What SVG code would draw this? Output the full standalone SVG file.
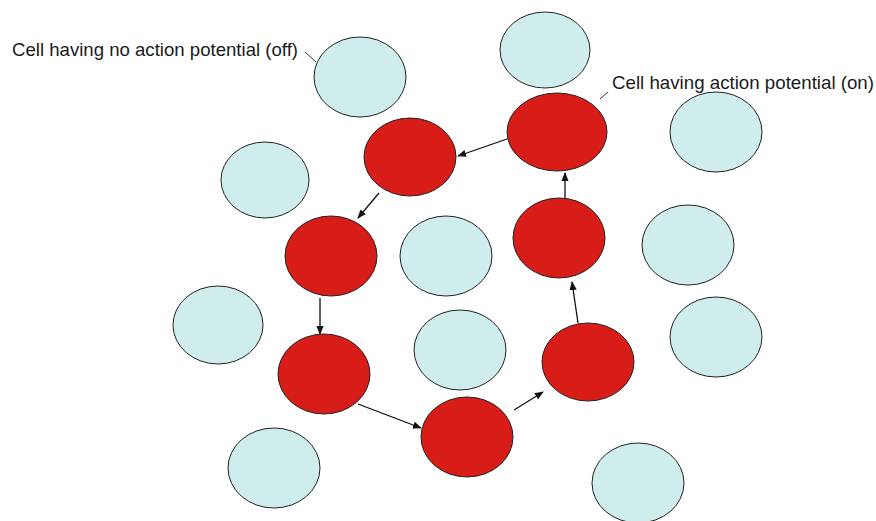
<svg xmlns="http://www.w3.org/2000/svg" width="876" height="521" viewBox="0 0 876 521">
<style>
.off{fill:#cfeded;stroke:#222;stroke-width:1}
.on{fill:#d81d19;stroke:#222;stroke-width:1}
.lbl{font-family:"Liberation Sans",Arial,sans-serif;font-size:18.5px;fill:#1a1a1a}
.ar{stroke:#111;stroke-width:1.3;fill:none;marker-end:url(#ah)}
.ld{stroke:#333;stroke-width:1;fill:none}
</style>
<defs>
<marker id="ah" viewBox="0 0 10 10" refX="9" refY="5" markerWidth="9" markerHeight="9" markerUnits="userSpaceOnUse" orient="auto">
<path d="M0,1 L10,5 L0,9 z" fill="#111"/>
</marker>
</defs>
<rect width="876" height="521" fill="#fff"/>
<g id="off1"><ellipse class="off" cx="360" cy="77" rx="46" ry="40"/></g>
<g id="off2"><ellipse class="off" cx="545" cy="50" rx="45" ry="38"/></g>
<g id="off3"><ellipse class="off" cx="716" cy="132" rx="46" ry="40"/></g>
<g id="off4"><ellipse class="off" cx="265" cy="180" rx="44" ry="38"/></g>
<g id="off5"><ellipse class="off" cx="446" cy="256" rx="46" ry="40"/></g>
<g id="off6"><ellipse class="off" cx="688" cy="245" rx="46" ry="40"/></g>
<g id="off7"><ellipse class="off" cx="218" cy="325" rx="45" ry="39"/></g>
<g id="off8"><ellipse class="off" cx="460" cy="350" rx="46" ry="40"/></g>
<g id="off9"><ellipse class="off" cx="716" cy="337" rx="46" ry="40"/></g>
<g id="off10"><ellipse class="off" cx="274" cy="468" rx="46" ry="40"/></g>
<g id="off11"><ellipse class="off" cx="638" cy="483" rx="46" ry="40"/></g>
<g id="on1"><ellipse class="on" cx="557" cy="132" rx="50" ry="39"/></g>
<g id="on2"><ellipse class="on" cx="410" cy="157" rx="46" ry="39"/></g>
<g id="on3"><ellipse class="on" cx="331" cy="256" rx="46" ry="40"/></g>
<g id="on4"><ellipse class="on" cx="324" cy="374" rx="46" ry="40"/></g>
<g id="on5"><ellipse class="on" cx="467" cy="437" rx="46" ry="40"/></g>
<g id="on6"><ellipse class="on" cx="588" cy="362" rx="46" ry="39"/></g>
<g id="on7"><ellipse class="on" cx="559" cy="238" rx="46" ry="40"/></g>
<g id="connectors">
<line class="ar" x1="507" y1="139" x2="458" y2="156"/>
<line class="ar" x1="379" y1="193" x2="358" y2="218"/>
<line class="ar" x1="320" y1="298" x2="320" y2="334"/>
<line class="ar" x1="358" y1="404" x2="421" y2="428"/>
<line class="ar" x1="514" y1="410" x2="543" y2="392"/>
<line class="ar" x1="578" y1="323" x2="572" y2="282"/>
<line class="ar" x1="565" y1="199" x2="565" y2="173"/>
<line class="ld" x1="305" y1="52" x2="316" y2="62"/>
<line class="ld" x1="600" y1="99" x2="608" y2="92"/>
</g>
<g id="labels">
<text class="lbl" x="12" y="56" textLength="286" lengthAdjust="spacingAndGlyphs">Cell having no action potential (off)</text>
<text class="lbl" x="612" y="89" textLength="262" lengthAdjust="spacingAndGlyphs">Cell having action potential (on)</text>
</g>
</svg>
